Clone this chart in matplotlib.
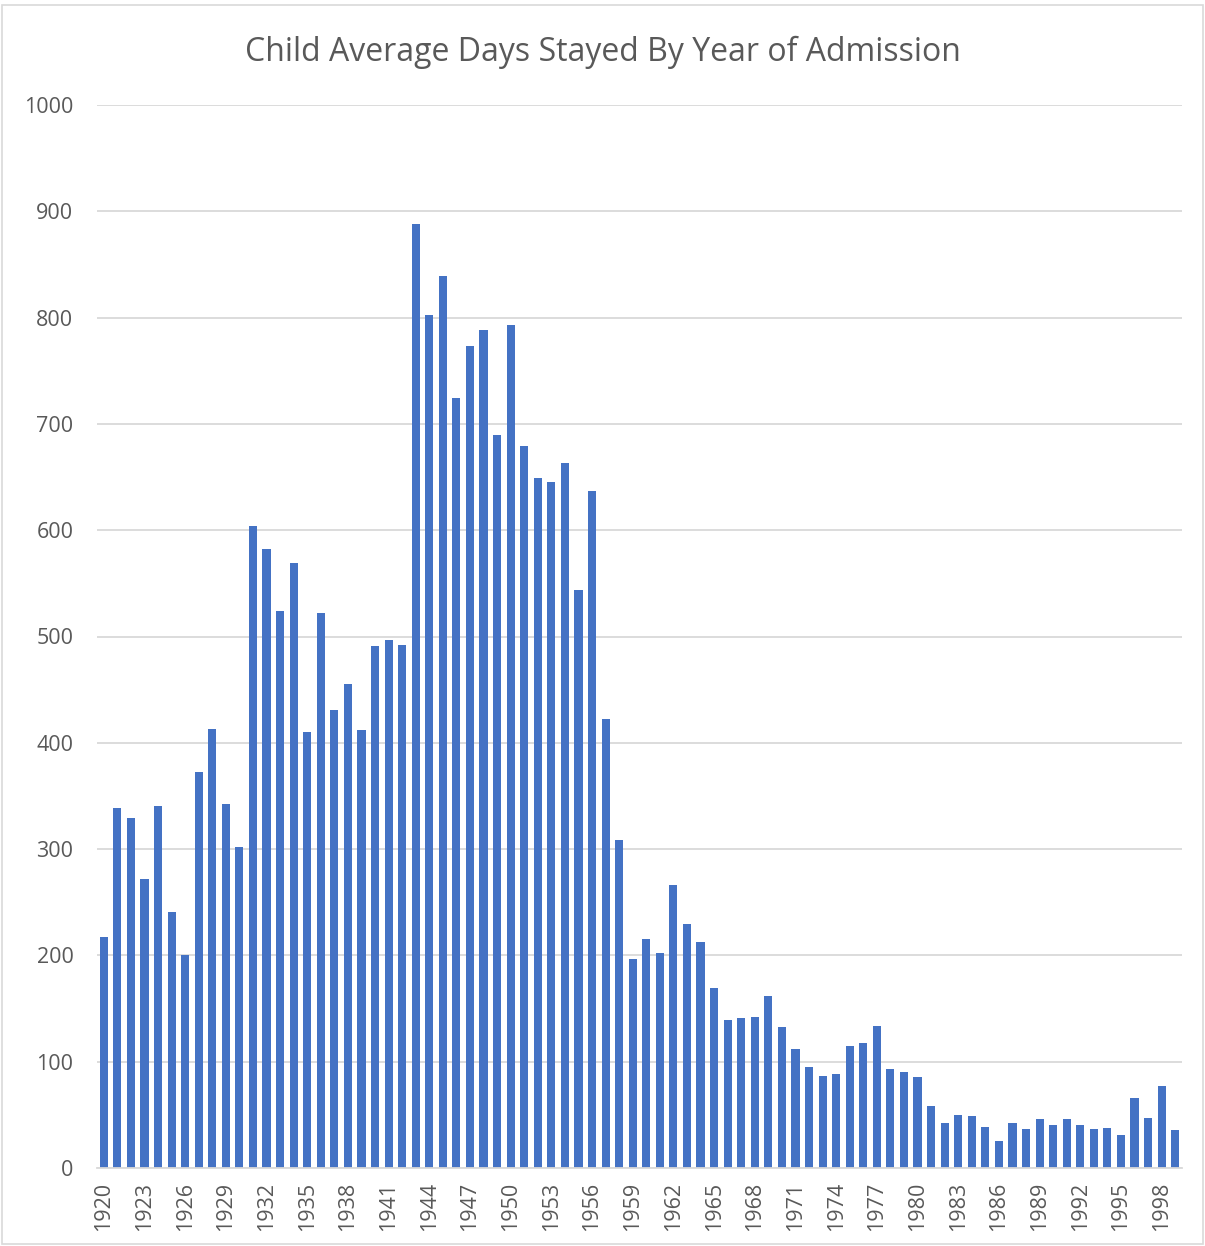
import matplotlib
matplotlib.use("Agg")
import matplotlib.pyplot as plt
from matplotlib.patches import Rectangle
import numpy as np

# Average length of stay (days) for children, by year of admission
years = list(range(1920, 2000))
avg_days = [
    217, 339, 329, 272, 341, 241, 200, 373, 413, 342,
    302, 604, 582, 524, 569, 410, 522, 431, 455, 412,
    491, 497, 492, 888, 802, 839, 724, 773, 788, 690,
    793, 679, 649, 645, 663, 544, 637, 422, 309, 197,
    215, 202, 266, 230, 213, 169, 139, 141, 142, 162,
    133, 112, 95, 87, 88, 115, 118, 134, 93, 90,
    86, 58, 42, 50, 49, 39, 25, 42, 37, 46,
    40, 46, 40, 37, 38, 31, 66, 47, 77, 36,
]
y_ticks = list(range(0, 1001, 100))

bar_color = "#4472C4"
text_color = "#595959"
grid_color = "#D9D9D9"
font = "Open Sans"

fig = plt.figure(figsize=(12.05, 12.46), dpi=100)
ax = fig.add_axes([97 / 1205, 78 / 1246, 1085 / 1205, 1063 / 1246])

x = np.arange(len(years))
ax.bar(x, avg_days, width=0.6, color=bar_color, zorder=3)

ax.set_xlim(-0.5, len(years) - 0.5)
ax.set_ylim(0, 1000)
ax.set_yticks(y_ticks)
ax.set_yticklabels([str(v) for v in y_ticks], fontsize=15.5, color=text_color, family=font)
ax.yaxis.grid(True, color=grid_color, linewidth=1.3, zorder=0)

tick_pos = x[::3]
ax.set_xticks(tick_pos)
ax.set_xticklabels([str(years[i]) for i in tick_pos], rotation=90,
                   fontsize=15.5, color=text_color, family=font)
ax.tick_params(axis="both", length=0)
ax.tick_params(axis="y", pad=17)
ax.tick_params(axis="x", pad=10)

for side in ["top", "right", "left"]:
    ax.spines[side].set_visible(False)
ax.spines["bottom"].set_color(grid_color)
ax.spines["bottom"].set_linewidth(1.3)
ax.spines["bottom"].set_zorder(4)

fig.text(0.5, 1 - 52 / 1246, "Child Average Days Stayed By Year of Admission",
         ha="center", va="center", fontsize=23, color=text_color, family=font)

# thin frame around the chart area
fig.patches.append(Rectangle((0.002, 0.002), 0.996, 0.994, transform=fig.transFigure,
                             fill=False, edgecolor=grid_color, linewidth=1.2))

fig.savefig("out.png", dpi=100, facecolor="white")
